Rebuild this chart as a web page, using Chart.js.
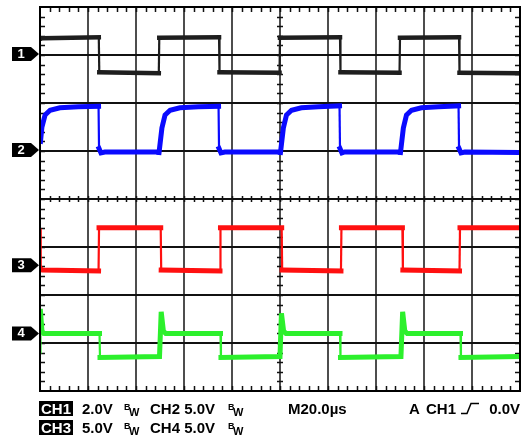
<!DOCTYPE html>
<html>
<head>
<meta charset="utf-8">
<script src="https://cdn.jsdelivr.net/npm/chart.js@4.4.1/dist/chart.umd.min.js"></script>
<style>
  body { margin: 0; background: #fff; }
  #wrap { position: relative; width: 528px; height: 437px; }
</style>
</head>
<body>
<div id="wrap"><canvas id="scope"></canvas></div>
<script>
// x is time in microseconds (10 div x 20us), y is screen divisions from the centre line
const timeMin = 0, timeMax = 200;
const divMin = -4, divMax = 4;

// traces: [time us, divisions]
const ch1Trace = [[0,3.33],[1,3.35],[24.5,3.37],[24.7,2.64],[49.5,2.62],[49.7,3.36],[74.6,3.37],[74.8,2.64],
  [99.8,2.63],[100,3.36],[125,3.37],[125.2,2.64],[149.8,2.63],[150,3.36],[174.6,3.37],[174.8,2.63],[200,2.62]];

const ch2Trace = [[0,1.27],[0.2,1.2],[0.8,1.5],[2.1,1.75],[4.2,1.85],[8.3,1.9],[16,1.92],[24.4,1.93],
  [24.6,1.05],[25.4,0.96],[27,0.98],[49.4,0.98],
  [49.6,0.97],[50.8,1.48],[52.1,1.75],[54.2,1.85],[58.3,1.9],[66,1.92],[74.4,1.93],
  [74.6,1.05],[75.4,0.96],[77,0.98],[99.8,0.98],
  [100.2,0.97],[101.4,1.48],[102.7,1.75],[104.8,1.85],[108.9,1.9],[116,1.92],[124.8,1.94],
  [125,1.05],[125.8,0.96],[127,0.98],[149.8,0.98],
  [150.2,0.97],[151.4,1.48],[152.7,1.75],[154.8,1.85],[158.9,1.9],[166,1.92],[174.4,1.94],
  [174.6,1.05],[175.4,0.96],[177,0.98],[200,0.97]];

const ch3Trace = [[0,-0.62],[0.3,-1.45],[1,-1.48],[24.4,-1.5],[24.6,-0.6],[50.3,-0.6],[50.5,-1.48],[75,-1.5],
  [75.2,-0.6],[100.7,-0.6],[100.9,-1.48],[125.4,-1.5],[125.6,-0.6],[151,-0.6],[151.2,-1.48],[174.8,-1.5],
  [175,-0.6],[200,-0.6]];

const ch4Trace = [[0,-3.2],[0.2,-2.34],[0.8,-2.75],[1.6,-2.8],[24.8,-2.8],[25,-3.3],[49.8,-3.28],
  [50.5,-2.35],[51.4,-2.75],[52.4,-2.8],[75.2,-2.8],[75.4,-3.3],[100,-3.28],
  [100.6,-2.38],[101.5,-2.75],[102.5,-2.8],[125,-2.8],[125.2,-3.3],[150.4,-3.28],
  [151.1,-2.35],[152,-2.75],[153,-2.8],[175.2,-2.8],[175.4,-3.3],[200,-3.28]];

// ground level markers on the left
const markerLabels = ['1', '2', '3', '4'];
const markerLevels = [3.02, 1.02, -1.38, -2.8];

// readout lines under the screen
const readoutRow1 = ['CH1', '2.0V', 'CH2 5.0V'];
const readoutRow2 = ['CH3', '5.0V', 'CH4 5.0V'];
const timebase = 'M20.0\u00b5s';
const triggerSrc = ['A', 'CH1', '0.0V'];

function toPoints(arr) {
  return arr.map(p => ({x: p[0], y: p[1]}));
}

const FONT = '"Liberation Sans", Arial, sans-serif';

const scopePlugin = {
  id: 'scopeScreen',
  beforeDatasetsDraw(chart) {
    const ctx = chart.ctx;
    const a = chart.chartArea;
    const x = chart.scales.x, y = chart.scales.y;
    ctx.save();
    // vertical grid lines
    ctx.lineWidth = 2;
    ctx.strokeStyle = '#4d4d4d';
    for (let t = timeMin + 20; t < timeMax; t += 20) {
      const px = Math.round(x.getPixelForValue(t));
      ctx.beginPath(); ctx.moveTo(px, a.top); ctx.lineTo(px, a.bottom); ctx.stroke();
    }
    // horizontal grid lines
    ctx.strokeStyle = '#111';
    for (let d = divMin + 1; d < divMax; d++) {
      const py = Math.round(y.getPixelForValue(d));
      ctx.beginPath(); ctx.moveTo(a.left, py); ctx.lineTo(a.right, py); ctx.stroke();
    }
    // minor ticks on frame and centre lines
    ctx.lineWidth = 1.5;
    ctx.strokeStyle = '#111';
    const cy = Math.round(y.getPixelForValue(0));
    const cx = Math.round(x.getPixelForValue(100));
    for (let t = timeMin + 4; t < timeMax; t += 4) {
      const px = Math.round(x.getPixelForValue(t)) + 0.5;
      ctx.beginPath();
      ctx.moveTo(px, a.top); ctx.lineTo(px, a.top + 5);
      ctx.moveTo(px, a.bottom); ctx.lineTo(px, a.bottom - 5);
      ctx.moveTo(px, cy - 3); ctx.lineTo(px, cy + 3);
      ctx.stroke();
    }
    for (let d = divMin + 0.2; d < divMax - 0.1; d += 0.2) {
      const py = Math.round(y.getPixelForValue(d)) + 0.5;
      ctx.beginPath();
      ctx.moveTo(a.left, py); ctx.lineTo(a.left + 5, py);
      ctx.moveTo(a.right, py); ctx.lineTo(a.right - 5, py);
      ctx.moveTo(cx - 3, py); ctx.lineTo(cx + 3, py);
      ctx.stroke();
    }
    ctx.restore();
  },
  afterDraw(chart) {
    const ctx = chart.ctx;
    const a = chart.chartArea;
    const y = chart.scales.y;
    ctx.save();
    // frame
    ctx.lineWidth = 2;
    ctx.strokeStyle = '#000';
    ctx.strokeRect(a.left, a.top, a.right - a.left, a.bottom - a.top);

    // channel markers
    markerLabels.forEach((lab, i) => {
      const py = y.getPixelForValue(markerLevels[i]);
      ctx.fillStyle = '#000';
      ctx.beginPath();
      ctx.moveTo(12, py - 7);
      ctx.lineTo(31, py - 7);
      ctx.lineTo(39, py);
      ctx.lineTo(31, py + 7);
      ctx.lineTo(12, py + 7);
      ctx.closePath();
      ctx.fill();
      ctx.fillStyle = '#fff';
      ctx.font = 'bold 13px ' + FONT;
      ctx.textAlign = 'center';
      ctx.textBaseline = 'middle';
      ctx.fillText(lab, 21, py + 0.5);
    });

    // readout
    ctx.textAlign = 'left';
    ctx.textBaseline = 'alphabetic';
    const rows = [[readoutRow1, 414], [readoutRow2, 433]];
    rows.forEach(([row, base]) => {
      ctx.fillStyle = '#000';
      ctx.fillRect(39, base - 13, 34, 15);
      ctx.font = 'bold 15px ' + FONT;
      ctx.fillStyle = '#fff';
      ctx.fillText(row[0], 41, base);
      ctx.fillStyle = '#000';
      ctx.fillText(row[1], 82, base);
      ctx.fillText(row[2], 150, base);
      [124, 228].forEach(bx => {
        ctx.font = 'bold 9px ' + FONT;
        ctx.fillText('B', bx, base - 4);
        ctx.font = 'bold 11px ' + FONT;
        ctx.fillText('W', bx + 5, base + 2);
      });
    });
    ctx.font = 'bold 15px ' + FONT;
    ctx.fillText(timebase, 288, 414);
    ctx.fillText(triggerSrc[0], 409, 414);
    ctx.fillText(triggerSrc[1], 426, 414);
    ctx.textAlign = 'right';
    ctx.fillText(triggerSrc[2], 520, 414);
    // rising edge symbol
    ctx.lineWidth = 1.5;
    ctx.beginPath();
    ctx.moveTo(461, 413.5); ctx.lineTo(467, 413.5);
    ctx.lineTo(471, 403.5); ctx.lineTo(479, 403.5);
    ctx.stroke();
    ctx.restore();
  }
};

// noisy flat levels look thick, fast edges look thin
const traceStyle = (label, data, color, width) => ({
  label: label,
  data: toPoints(data),
  borderColor: color,
  borderWidth: width,
  pointRadius: 0,
  tension: 0,
  fill: false,
  borderCapStyle: 'square',
  borderJoinStyle: 'miter',
  segment: {
    borderWidth: c => (Math.abs(c.p1.parsed.x - c.p0.parsed.x) < 0.5 ? 2.2 : width)
  }
});

new Chart(document.getElementById('scope'), {
  type: 'line',
  data: {
    datasets: [
      traceStyle('CH1', ch1Trace, '#1e1e1e', 4.5),
      traceStyle('CH2', ch2Trace, '#0a0aff', 5),
      traceStyle('CH3', ch3Trace, '#ff1010', 5),
      traceStyle('CH4', ch4Trace, '#2cf02c', 5)
    ]
  },
  options: {
    responsive: true,
    maintainAspectRatio: false,
    animation: false,
    layout: { padding: { left: 40, right: 8, top: 7, bottom: 46 } },
    plugins: { legend: { display: false }, tooltip: { enabled: false } },
    scales: {
      x: { type: 'linear', min: timeMin, max: timeMax, display: false },
      y: { type: 'linear', min: divMin, max: divMax, display: false }
    }
  },
  plugins: [scopePlugin]
});
</script>
</body>
</html>
